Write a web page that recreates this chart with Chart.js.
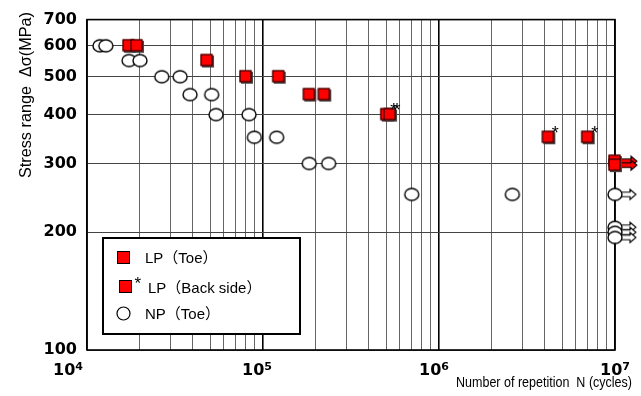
<!DOCTYPE html>
<html>
<head>
<meta charset="utf-8">
<script src="https://cdn.jsdelivr.net/npm/chart.js@4.4.1/dist/chart.umd.min.js"></script>
<style>
html,body{margin:0;padding:0;background:#fff;}
#wrap{width:641px;height:396px;position:relative;}
</style>
</head>
<body>
<div id="wrap"><canvas id="c" width="641" height="396"></canvas></div>
<script>
// ---------------- data ----------------
const npToeN = [1.185e4, 1.28e4, 1.733e4, 2.0e4, 2.66e4, 3.38e4, 3.85e4, 5.11e4, 5.41e4, 8.33e4, 8.93e4, 1.196e5, 1.83e5, 2.36e5, 7.0e5, 2.61e6];
const npToeS = [600, 600, 550, 550, 500, 500, 450, 450, 400, 400, 350, 350, 300, 300, 250, 250];

const lpToeN = [1.733e4, 1.923e4, 4.81e4, 8.0e4, 1.228e5, 1.833e5, 2.23e5];
const lpToeS = [600, 600, 550, 500, 500, 450, 450];

const lpBackN = [5.05e5, 5.27e5, 4.18e6, 7.0e6];
const lpBackS = [400, 400, 350, 350];

// run-outs (not failed) at 10^7 cycles
const lpRunN = [1e7, 1e7];
const lpRunS = [304, 297];
const npRunN = [1e7, 1e7, 1e7, 1e7];
const npRunS = [250, 206, 200, 194];

const yTickValues = [100, 200, 300, 400, 500, 600, 700];
const xDecades = [1e4, 1e5, 1e6, 1e7];
const xExponents = ['4', '5', '6', '7'];
const legendLabels = ['LP（Toe）', 'LP（Back side）', 'NP（Toe）'];
const xTitle = 'Number of repetition  N (cycles)';
const yTitle = 'Stress range  Δσ(MPa)';

// ---------------- styles ----------------
const zip = (a, b) => a.map((v, i) => ({x: v, y: b[i]}));
function mk(w, h, draw) { const c = document.createElement('canvas'); c.width = w; c.height = h; draw(c.getContext('2d')); return c; }
function drawSquare(c, cx, cy, s, shadow) {
  if (shadow) { c.fillStyle = '#4a4a4a'; c.fillRect(cx - s/2 + 1.5, cy - s/2 + 1.5, s, s); }
  c.fillStyle = '#ff0000'; c.fillRect(cx - s/2, cy - s/2, s, s);
  c.strokeStyle = '#000'; c.lineWidth = 1; c.strokeRect(cx - s/2 + 0.5, cy - s/2 + 0.5, s - 1, s - 1);
}
function drawEllipse(c, cx, cy, rx, ry) {
  c.beginPath(); c.ellipse(cx, cy, rx, ry, 0, 0, Math.PI * 2);
  c.fillStyle = '#fff'; c.fill(); c.strokeStyle = '#000'; c.lineWidth = 1.4; c.stroke();
}
function drawArrow(c, x0, x2, cy, fill) {
  const hl = 6, sh = 2.2, hh = 5, x1 = x2 - hl;
  c.beginPath();
  c.moveTo(x0, cy - sh); c.lineTo(x1, cy - sh); c.lineTo(x1, cy - hh); c.lineTo(x2, cy);
  c.lineTo(x1, cy + hh); c.lineTo(x1, cy + sh); c.lineTo(x0, cy + sh); c.closePath();
  c.fillStyle = fill; c.fill(); c.strokeStyle = '#000'; c.lineWidth = 1.1; c.stroke();
}
const imgSquare = mk(16, 16, c => drawSquare(c, 7.5, 7.5, 12, true));
const imgEllipse = mk(18, 16, c => drawEllipse(c, 9, 8, 7, 6));
const imgSquareRun = mk(56, 16, c => { drawArrow(c, 34, 50, 8, '#ff0000'); drawSquare(c, 27.5, 7.5, 12, true); });
const imgEllipseRun = mk(50, 16, c => { drawArrow(c, 31, 46, 8, '#fff'); drawEllipse(c, 25, 8, 7, 6); });

const FONT_TXT = '"Liberation Sans", Arial, "Noto Sans CJK JP", sans-serif';
const FONT_NUM = '"DejaVu Sans", sans-serif';

// ---------------- plugins ----------------
const framePlugin = {
  id: 'frame',
  beforeDatasetsDraw(chart) {
    const a = chart.chartArea, c = chart.ctx;
    c.save(); c.strokeStyle = '#000'; c.lineWidth = 1.6;
    c.strokeRect(a.left, a.top, a.right - a.left, a.bottom - a.top);
    c.restore();
  }
};

const asteriskPlugin = {
  id: 'asterisk',
  afterDatasetsDraw(chart) {
    const c = chart.ctx;
    chart.data.datasets.forEach((ds, i) => {
      if (!ds.backSide) return;
      chart.getDatasetMeta(i).data.forEach(el => {
        c.save(); c.fillStyle = '#000'; c.font = '18px ' + FONT_TXT;
        c.textAlign = 'center'; c.textBaseline = 'alphabetic';
        c.fillText('*', el.x + 7, el.y + 1.5);
        c.restore();
      });
    });
  }
};

const legendPlugin = {
  id: 'boxLegend',
  afterDatasetsDraw(chart) {
    const c = chart.ctx;
    c.save();
    c.fillStyle = '#fff'; c.fillRect(103, 238, 197, 96);
    c.strokeStyle = '#000'; c.lineWidth = 2; c.strokeRect(103, 238, 197, 96);
    drawSquare(c, 123.5, 257.5, 13, false);
    drawSquare(c, 125.5, 286.5, 13, false);
    c.beginPath(); c.arc(123.5, 313.5, 6.5, 0, Math.PI * 2);
    c.fillStyle = '#fff'; c.fill(); c.strokeStyle = '#000'; c.lineWidth = 1.2; c.stroke();
    c.fillStyle = '#000'; c.font = '17px ' + FONT_TXT; c.textAlign = 'left'; c.textBaseline = 'alphabetic';
    c.fillText('*', 134.5, 289);
    c.font = '15px ' + FONT_TXT;
    c.fillText(legendLabels[0], 145, 263);
    c.fillText(legendLabels[1], 148, 293);
    c.fillText(legendLabels[2], 145, 319);
    c.restore();
  }
};

const textPlugin = {
  id: 'texts',
  afterDraw(chart) {
    const c = chart.ctx, xs = chart.scales.x;
    c.save(); c.fillStyle = '#000'; c.textBaseline = 'alphabetic';
    // x decade labels 10^n
    const shift = [-4, -6, -5, 0];
    xDecades.forEach((v, i) => {
      const px = xs.getPixelForValue(v);
      c.font = 'bold 16px ' + FONT_NUM; const wb = c.measureText('10').width;
      c.font = 'bold 11px ' + FONT_NUM; const we = c.measureText(xExponents[i]).width;
      const w = wb + we;
      const left = i === 0 ? px + shift[i] - w : px + shift[i] - w / 2;
      c.font = 'bold 16px ' + FONT_NUM; c.textAlign = 'left';
      c.fillText('10', left, 375);
      c.font = 'bold 11px ' + FONT_NUM;
      c.fillText(xExponents[i], left + wb, 370);
    });
    // x title
    c.font = '14px ' + FONT_TXT;
    let w = c.measureText(xTitle).width, k = 176 / w;
    c.save(); c.translate(632, 387); c.scale(k, 1); c.textAlign = 'right'; c.fillText(xTitle, 0, 0); c.restore();
    // y title
    c.font = '16px ' + FONT_TXT;
    w = c.measureText(yTitle).width; k = 166 / w;
    c.save(); c.translate(31, 95); c.rotate(-Math.PI / 2); c.scale(k, 1); c.textAlign = 'center'; c.fillText(yTitle, 0, 0); c.restore();
    c.restore();
  }
};

// ---------------- chart ----------------
const isDecade = v => Math.abs(Math.log10(v) - Math.round(Math.log10(v))) < 1e-9;

new Chart(document.getElementById('c'), {
  type: 'scatter',
  data: {
    datasets: [
      {label: legendLabels[0], data: zip(lpToeN, lpToeS), pointStyle: imgSquare, order: 0, clip: false},
      {label: legendLabels[1], data: zip(lpBackN, lpBackS), pointStyle: imgSquare, order: 0, clip: false, backSide: true},
      {label: legendLabels[0] + ' run-out', data: zip(lpRunN, lpRunS), pointStyle: imgSquareRun, order: 0, clip: false},
      {label: legendLabels[2], data: zip(npToeN, npToeS), pointStyle: imgEllipse, order: 1, clip: false},
      {label: legendLabels[2] + ' run-out', data: zip(npRunN, npRunS), pointStyle: imgEllipseRun, order: 1, clip: false}
    ].map(d => Object.assign({pointRadius: 7, pointHoverRadius: 7, showLine: false}, d))
  },
  options: {
    responsive: false,
    animation: false,
    devicePixelRatio: 1,
    layout: {padding: {left: 0, right: 26, top: 15, bottom: 0}},
    plugins: {legend: {display: false}, tooltip: {enabled: false}},
    events: [],
    scales: {
      x: {
        type: 'logarithmic', min: 1e4, max: 1e7, position: 'bottom',
        afterBuildTicks(s) {
          const t = [];
          for (let d = 1e4; d < 1e7; d *= 10) for (let m = 1; m <= 9; m++) t.push({value: m * d});
          t.push({value: 1e7});
          s.ticks = t;
        },
        afterFit(s) { s.height = 46; },
        ticks: {display: false},
        border: {display: false},
        grid: {
          drawTicks: false,
          color: ctx => (ctx.tick && isDecade(ctx.tick.value)) ? '#000' : '#666',
          lineWidth: ctx => (ctx.tick && isDecade(ctx.tick.value)) ? 1.6 : 1
        }
      },
      y: {
        type: 'logarithmic', min: 100, max: 700, position: 'left',
        afterBuildTicks(s) { s.ticks = yTickValues.map(v => ({value: v})); },
        afterFit(s) { s.width = 87; },
        border: {display: false},
        grid: {drawTicks: false, color: '#444', lineWidth: 1},
        ticks: {
          padding: 10, color: '#000',
          font: {family: FONT_NUM, weight: 'bold', size: 16},
          callback: v => String(v)
        }
      }
    }
  },
  plugins: [framePlugin, asteriskPlugin, legendPlugin, textPlugin]
});
</script>
</body>
</html>
